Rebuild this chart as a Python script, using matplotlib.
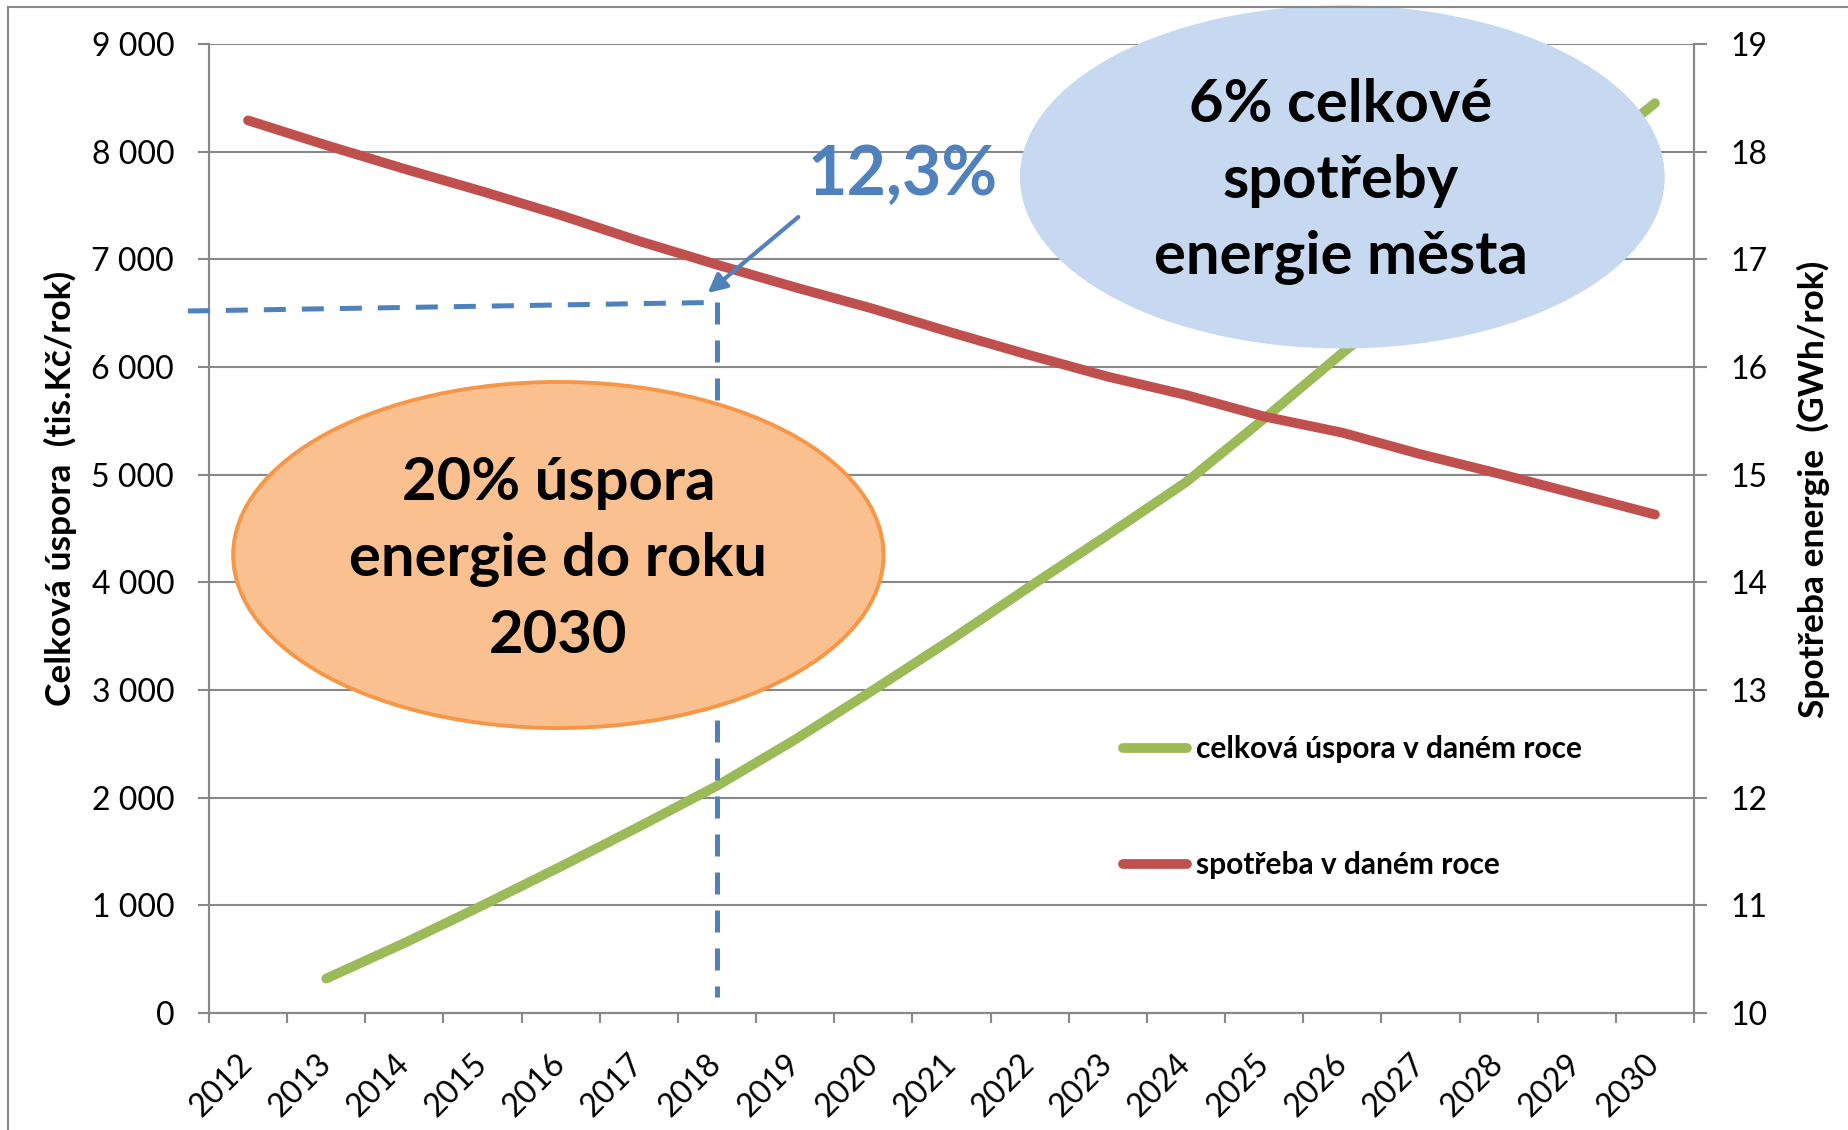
import matplotlib
matplotlib.use("Agg")
import matplotlib.pyplot as plt
from matplotlib.patches import Ellipse, Rectangle

plt.rcParams['font.family'] = ['Lato', 'DejaVu Sans']

years = list(range(2012, 2031))

# celková úspora (tis.Kč/rok), levá osa - od roku 2013
savings_years = list(range(2013, 2031))
savings = [320, 650, 1000, 1360, 1730, 2110, 2540, 3000, 3470, 3960, 4440,
           4930, 5520, 6130, 6710, 7290, 7870, 8450]

# spotřeba energie (GWh/rok), pravá osa
consumption = [18.29, 18.06, 17.84, 17.63, 17.41, 17.17, 16.95, 16.74, 16.54,
               16.32, 16.11, 15.91, 15.74, 15.54, 15.39, 15.19, 15.01, 14.82,
               14.63]

left_ticks = list(range(0, 10000, 1000))
right_ticks = list(range(10, 20))

green = '#9BBB59'
red = '#C0504D'
blue = '#4F81BD'
grey = '#888888'

fig = plt.figure(figsize=(18.49, 11.3), dpi=100)
ax = fig.add_axes((0.1130, 0.1035, 0.8032, 0.8576))
ax2 = ax.twinx()

xs = [years.index(y) for y in savings_years]
l1, = ax.plot(xs, savings, color=green, lw=7, solid_capstyle='round',
              label='celková úspora v daném roce', zorder=3)
l2, = ax2.plot(range(len(years)), consumption, color=red, lw=7,
               solid_capstyle='round', label='spotřeba v daném roce', zorder=3)

ax.set_xlim(-0.5, len(years) - 0.5)
ax.set_ylim(0, 9000)
ax2.set_ylim(10, 19)

ax.set_yticks(left_ticks)
ax.set_yticklabels([f"{v:,}".replace(",", " ") for v in left_ticks])
ax2.set_yticks(right_ticks)
ax.grid(axis='y', color=grey, lw=1.5)
ax.set_axisbelow(True)

ax.set_xticks(range(len(years)))
ax.set_xticklabels([str(y) for y in years], rotation=45, ha='right',
                   va='center', rotation_mode='anchor')
ax.set_xticks([i - 0.5 for i in range(len(years) + 1)], minor=True)
ax.tick_params(axis='x', which='major', length=0, pad=33, labelsize=23)
ax.tick_params(axis='x', which='minor', length=7.5, width=1.5, color=grey)
ax.tick_params(axis='y', length=8, width=1.5, color=grey, pad=17, labelsize=23)
ax2.tick_params(axis='y', length=9, width=1.5, color=grey, pad=17, labelsize=23)

for a in (ax, ax2):
    a.spines['top'].set_visible(False)
    for s in ('left', 'right', 'bottom'):
        a.spines[s].set_color(grey)
        a.spines[s].set_linewidth(1.5)

ax.set_ylabel('Celková úspora  (tis.Kč/rok)', fontsize=25.5, fontweight='bold')
ax.yaxis.set_label_coords(-0.089, 0.541)
ax2.set_ylabel('Spotřeba energie  (GWh/rok)', fontsize=25.5, fontweight='bold')
ax2.yaxis.set_label_coords(1.069, 0.54)

# vyznačení roku 2018
mark_x = years.index(2018)
mark_y = 6600
ax2.plot([-0.77, mark_x], [6520, mark_y], color=blue, lw=3.6,
         dashes=(4.4, 3.2), transform=ax.transData, clip_on=False, zorder=4)
ax2.plot([mark_x, mark_x], [mark_y, 150], color=blue, lw=3.6,
         dashes=(4.4, 3.2), transform=ax.transData, zorder=4)

# bubliny
e1 = Ellipse((3.97, 4254), 8.32, 3214, facecolor='#FAC090', edgecolor='#F79646',
             lw=2.8, transform=ax.transData, zorder=6)
ax2.add_patch(e1)
e2 = Ellipse((14.0, 7765), 8.25, 3186, facecolor='#C6D9F1', edgecolor='none',
             transform=ax.transData, zorder=6, clip_on=False)
ax2.add_patch(e2)

ax2.text(3.97, 4210, '20% úspora\nenergie do roku\n2030', transform=ax.transData,
         ha='center', va='center', fontsize=43, fontweight='bold',
         linespacing=1.5, zorder=7)
ax2.text(13.98, 7720, '6% celkové\nspotřeby\nenergie města', transform=ax.transData,
         ha='center', va='center', fontsize=43, fontweight='bold',
         linespacing=1.5, zorder=7, clip_on=False)

ax2.text(8.37, 7597, '12,3%', transform=ax.transData, ha='center', va='baseline',
         fontsize=49, fontweight='bold', color=blue, zorder=7)
ax2.annotate('', xy=(5.88, 6687), xytext=(7.04, 7393),
             xycoords=ax.transData, textcoords=ax.transData,
             arrowprops=dict(arrowstyle='-|>', color=blue, lw=3,
                             mutation_scale=28, shrinkA=0, shrinkB=0),
             zorder=7)

leg = ax2.legend([l1, l2], [l1.get_label(), l2.get_label()],
                 loc='upper left', bbox_to_anchor=(0.6073, 0.3495),
                 bbox_transform=fig.transFigure, frameon=False,
                 prop={'weight': 'bold', 'size': 21.5},
                 handlelength=2.14, handletextpad=0.3, labelspacing=2.95,
                 borderpad=0, borderaxespad=0)
leg.set_zorder(8)

# rámeček grafu
fig.add_artist(Rectangle((8 / 1849, -0.1), 1.2, 1 - 7 / 1130 + 0.1,
                         transform=fig.transFigure, fill=False,
                         edgecolor=grey, lw=1.5))

fig.savefig('out.png', dpi=100)
